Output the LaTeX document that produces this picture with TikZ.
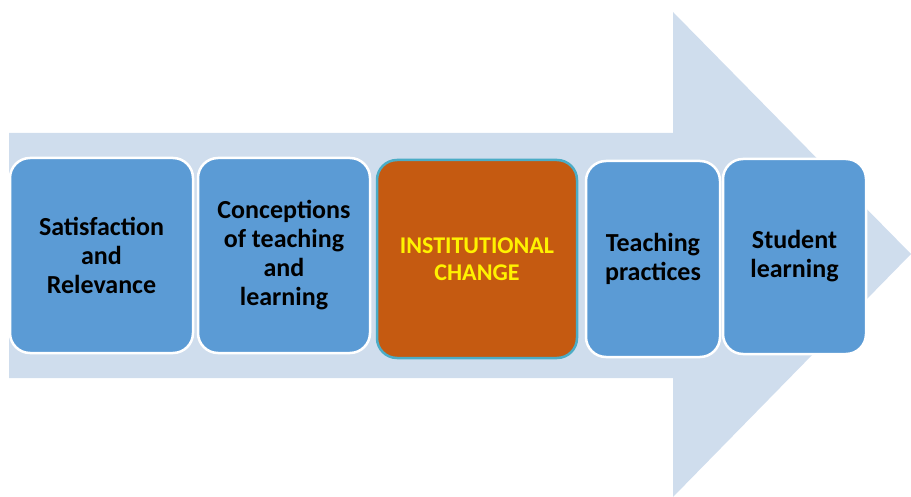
\documentclass[tikz,border=0pt]{standalone}
\usepackage{fontspec}
\setmainfont{Carlito}
\definecolor{arrowblue}{HTML}{CFDDED}
\definecolor{boxblue}{HTML}{5B9BD5}
\definecolor{boxorange}{HTML}{C55A11}
\definecolor{rimteal}{HTML}{4BACC6}
\begin{document}
\begin{tikzpicture}[
       x=1pt, y=-1pt,
       stage/.style={
         rectangle,
         rounded corners=20pt,
         fill=boxblue,
         draw=white,
         line width=2.5pt,
         align=center,
         inner sep=2pt,
         font=\fontsize{26}{29}\selectfont\bfseries
       },
       focus/.style={
         stage,
         fill=boxorange,
         draw=rimteal,
         text=yellow,
         font=\fontsize{24}{27}\selectfont\bfseries
       }
     ]

       \useasboundingbox (0,0) rectangle (911,497);

       % big arrow behind the stages
       \fill[arrowblue] (9,133) -- (673,133) -- (673,12) -- (911,254)
         -- (673,497) -- (673,378) -- (9,378) -- cycle;

       \node (sat) at (101.5,255.5) [stage,minimum width=183pt,minimum height=195pt]{Satisfaction\\and\\Relevance};
       \node (conc) at (284,255.5) [stage,minimum width=172pt,minimum height=195pt]{Conceptions\\of teaching\\and\\learning};
       \node (inst) at (477,259) [focus,minimum width=200pt,minimum height=198pt]{INSTITUTIONAL\\CHANGE};
       \node (teach) at (653,259) [stage,minimum width=134pt,minimum height=196pt]{Teaching\\practices};
       \node (stud) at (794.5,256.5) [stage,minimum width=143pt,minimum height=195pt]{Student\\learning};

\end{tikzpicture}
\end{document}
